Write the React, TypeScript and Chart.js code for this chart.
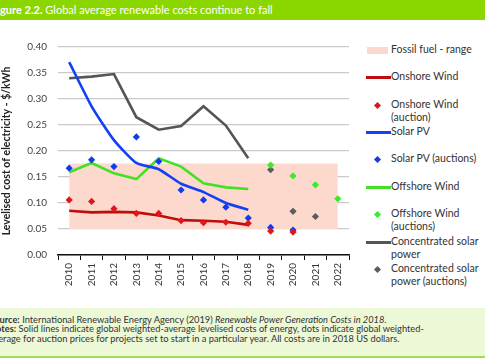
import React, { useEffect, useRef } from 'react';
import { Chart, registerables } from 'chart.js';

Chart.register(...registerables);

const years = ['2010', '2011', '2012', '2013', '2014', '2015', '2016', '2017', '2018', '2019', '2020', '2021', '2022'];
const onshoreWind = [0.085, 0.082, 0.083, 0.082, 0.076, 0.067, 0.066, 0.064, 0.058, null, null, null, null];
const onshoreAuction = [0.106, 0.103, 0.089, 0.080, 0.080, 0.066, 0.062, 0.063, 0.061, 0.046, 0.044, null, null];
const solarPV = [0.371, 0.286, 0.221, 0.177, 0.165, 0.137, 0.121, 0.100, 0.087, null, null, null, null];
const solarAuction = [0.167, 0.183, 0.170, 0.227, 0.180, 0.125, 0.106, 0.092, 0.071, 0.053, 0.048, null, null];
const offshoreWind = [0.159, 0.177, 0.157, 0.146, 0.186, 0.170, 0.138, 0.130, 0.127, null, null, null, null];
const offshoreAuction = [null, null, null, null, null, null, null, null, null, 0.173, 0.152, 0.135, 0.108];
const csp = [0.340, 0.343, 0.348, 0.265, 0.241, 0.248, 0.286, 0.249, 0.186, null, null, null, null];
const cspAuction = [null, null, null, null, null, null, null, null, null, 0.164, 0.084, 0.074, null];
const fossilLow = [0.05, 0.05, 0.05, 0.05, 0.05, 0.05, 0.05, 0.05, 0.05, 0.05, 0.05, 0.05, 0.05];
const fossilHigh = [0.176, 0.176, 0.176, 0.176, 0.176, 0.176, 0.176, 0.176, 0.176, 0.176, 0.176, 0.176, 0.176];
const yTickLabels = ['0.00', '0.05', '0.10', '0.15', '0.20', '0.25', '0.30', '0.35', '0.40'];

const FONT = 'Lato';
const C_RED_LINE = '#bf0d0d';
const C_RED_DOT = '#e0161b';
const C_BLUE = '#1240f5';
const C_BLUE_DOT = '#0f3cf0';
const C_GREEN = '#44e026';
const C_GREEN_DOT = '#3fe82a';
const C_GRAY = '#555555';
const C_GRAY_DOT = '#5c5c5c';
const C_PINK = '#fcd8cd';

const lineDs = (label: string, data: (number | null)[], color: string, order: number, tension = 0) => ({
  label,
  data,
  borderColor: color,
  backgroundColor: color,
  borderWidth: 2.6,
  pointRadius: 0,
  tension,
  fill: false,
  order,
});

const dotDs = (label: string, data: (number | null)[], color: string, order: number) => ({
  label,
  data,
  showLine: false,
  borderColor: color,
  backgroundColor: color,
  borderWidth: 0,
  pointStyle: 'rectRot',
  pointRadius: 3.6,
  fill: false,
  order,
});

type LegendItem = { label: string[]; kind: 'box' | 'line' | 'dot'; color: string; y: number };
const legendItems: LegendItem[] = [
  { label: ['Fossil fuel - range'], kind: 'box', color: C_PINK, y: 50 },
  { label: ['Onshore Wind'], kind: 'line', color: C_RED_LINE, y: 77 },
  { label: ['Onshore Wind', '(auction)'], kind: 'dot', color: C_RED_DOT, y: 105 },
  { label: ['Solar PV'], kind: 'line', color: C_BLUE, y: 132 },
  { label: ['Solar PV (auctions)'], kind: 'dot', color: C_BLUE_DOT, y: 159 },
  { label: ['Offshore Wind'], kind: 'line', color: C_GREEN, y: 187 },
  { label: ['Offshore Wind', '(auctions)'], kind: 'dot', color: C_GREEN_DOT, y: 214 },
  { label: ['Concentrated solar', 'power'], kind: 'line', color: C_GRAY, y: 242 },
  { label: ['Concentrated solar', 'power (auctions)'], kind: 'dot', color: C_GRAY_DOT, y: 269 },
];

export default function App() {
  const canvasRef = useRef<HTMLCanvasElement | null>(null);

  useEffect(() => {
    document.body.style.margin = '0';
    const canvas = canvasRef.current;
    if (!canvas) return;
    const chart = new Chart(canvas, {
      type: 'line',
      data: {
        labels: years,
        datasets: [
          { label: 'Fossil low', data: fossilLow, borderWidth: 0, pointRadius: 0, fill: false, borderColor: 'rgba(0,0,0,0)', order: 100 },
          { label: 'Fossil fuel - range', data: fossilHigh, borderWidth: 0, pointRadius: 0, fill: '-1', borderColor: 'rgba(0,0,0,0)', backgroundColor: C_PINK, order: 99 },
          lineDs('Concentrated solar power', csp, C_GRAY, 20),
          lineDs('Offshore Wind', offshoreWind, C_GREEN, 19),
          lineDs('Solar PV', solarPV, C_BLUE, 18, 0.18),
          lineDs('Onshore Wind', onshoreWind, C_RED_LINE, 17),
          dotDs('Concentrated solar power (auctions)', cspAuction, C_GRAY_DOT, 4),
          dotDs('Offshore Wind (auctions)', offshoreAuction, C_GREEN_DOT, 3),
          dotDs('Solar PV (auctions)', solarAuction, C_BLUE_DOT, 2),
          dotDs('Onshore Wind (auction)', onshoreAuction, C_RED_DOT, 1),
        ] as any,
      },
      options: {
        responsive: false,
        animation: false,
        layout: { padding: { top: 47, right: 11, left: 0, bottom: 0 } },
        plugins: {
          legend: { display: false },
          tooltip: { enabled: false },
        },
        scales: {
          x: {
            offset: true,
            grid: { offset: true, drawOnChartArea: false, drawTicks: true, tickLength: 5, color: '#111', lineWidth: 1 },
            border: { color: '#111', width: 1.5 },
            ticks: { minRotation: 90, maxRotation: 90, autoSkip: false, color: '#333', font: { family: FONT, size: 10 }, padding: 3 },
            afterFit: (s: any) => { s.height = 45; },
          },
          y: {
            min: 0,
            max: 0.4,
            ticks: {
              stepSize: 0.05,
              padding: 11,
              color: '#444',
              font: { family: FONT, size: 10 },
              callback: (_v: any, i: number) => yTickLabels[i],
            },
            grid: { drawTicks: false, color: '#c9c9c9', lineWidth: 1.3 },
            border: { display: false },
            title: {
              display: true,
              text: 'Levelised cost of electricity - $/kWh',
              color: '#222',
              font: { family: FONT, size: 10.5, weight: 'bold' },
              padding: { top: 0, bottom: 0 },
            },
            afterFit: (s: any) => { s.width = 58; },
          },
        },
      } as any,
    });
    return () => chart.destroy();
  }, []);

  return (
    <div style={{ position: 'relative', width: 485, height: 360, overflow: 'hidden', background: '#fff', fontFamily: FONT }}>
      <div style={{ position: 'absolute', left: 0, top: 0, width: 485, height: 20, background: '#8cd600' }}>
        <div style={{ position: 'absolute', left: -9, top: 3, whiteSpace: 'nowrap', color: '#fff', fontSize: 11, lineHeight: '14px' }}>
          <b>Figure 2.2.</b> Global average renewable costs continue to fall
        </div>
      </div>
      <canvas ref={canvasRef} width={360} height={300} style={{ position: 'absolute', left: 0, top: 0 }} />
      {legendItems.map((it, i) => (
        <div key={i}>
          {it.kind === 'box' && (
            <div style={{ position: 'absolute', left: 367, top: it.y - 3, width: 21, height: 7, background: it.color }} />
          )}
          {it.kind === 'line' && (
            <div style={{ position: 'absolute', left: 366, top: it.y - 1.5, width: 25, height: 3, background: it.color }} />
          )}
          {it.kind === 'dot' && (
            <div style={{ position: 'absolute', left: 375, top: it.y - 2.5, width: 5, height: 5, background: it.color, transform: 'rotate(45deg)' }} />
          )}
          <div style={{ position: 'absolute', left: 391, top: it.y - 7, whiteSpace: 'nowrap', color: '#333', fontSize: 10.5, lineHeight: '13.4px' }}>
            {it.label.map((l, j) => (<div key={j}>{l}</div>))}
          </div>
        </div>
      ))}
      <div style={{ position: 'absolute', left: 0, top: 308, width: 485, height: 48, background: '#ecf8d6', borderBottom: '2px solid #a6dc55' }}>
        <div style={{ position: 'absolute', left: -11, top: 7, whiteSpace: 'nowrap', color: '#333', fontSize: 9.3, lineHeight: '9.3px' }}>
          <div><b>Source:</b> International Renewable Energy Agency (2019) <i>Renewable Power Generation Costs in 2018</i>.</div>
          <div><b>Notes:</b> Solid lines indicate global weighted-average levelised costs of energy, dots indicate global weighted-</div>
          <div>average for auction prices for projects set to start in a particular year. All costs are in 2018 US dollars.</div>
        </div>
      </div>
    </div>
  );
}
